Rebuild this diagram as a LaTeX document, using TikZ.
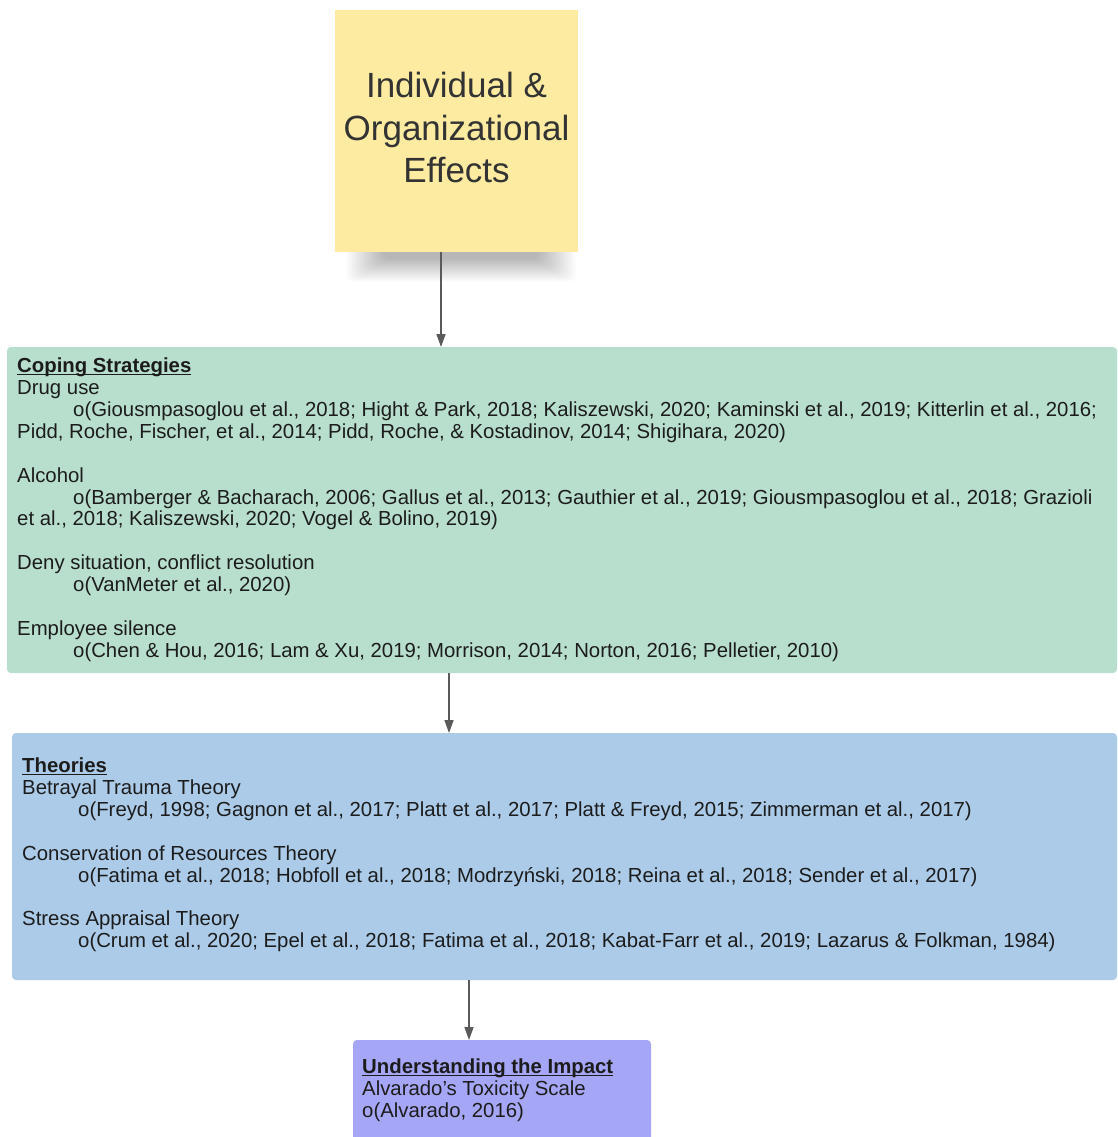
\documentclass[tikz,border=0pt]{standalone}
\usepackage{fontspec}
\setmainfont{Liberation Sans}
\usetikzlibrary{arrows.meta}

\definecolor{noteyellow}{HTML}{FDEBA2}
\definecolor{copegreen}{HTML}{B8DFCD}
\definecolor{theoryblue}{HTML}{ABCBE8}
\definecolor{impactviolet}{HTML}{A6A6F6}
\definecolor{arrowgray}{HTML}{5A5A5A}
\definecolor{titlegray}{HTML}{333333}
\definecolor{bodyink}{HTML}{1C1C1C}

% bold heading with an underline that sits just under the baseline
\newsavebox\hdrbox
\newcommand\hdr[1]{\sbox\hdrbox{\bfseries #1}\rlap{\rule[-2.2pt]{\wd\hdrbox}{1.3pt}}\usebox\hdrbox}
\newcommand\tabin{\hspace*{56pt}}
\newcommand\gap{\\[21.85pt]}

\begin{document}
\begin{tikzpicture}[x=1pt,y=-1pt,
  panel/.style={inner sep=0pt,outer sep=0pt,anchor=north west,rounded corners=4pt},
  arr/.style={draw=arrowgray,line width=1.4pt,-{Triangle[length=13pt,width=9pt]}},
  body/.style={inner sep=0pt,anchor=north west,align=left,text=bodyink,
               font=\fontsize{20.35}{21.85}\selectfont}]

\useasboundingbox (0,0) rectangle (1118,1137);
\fill[white] (0,0) rectangle (1118,1137);
\clip (0,0) rectangle (1118,1137);

% soft shadow under the sticky note, built from stacked translucent layers
\foreach \k in {0,...,23}
  \fill[black,opacity=0.0105,rounded corners=8pt]
    (346+1.6*\k,246) rectangle (576-1.6*\k,282-1.0*\k);

% panels
\node[panel,fill=noteyellow,minimum width=243pt,minimum height=242pt,rounded corners=0pt]
      (effects) at (335,10) {};
\node[panel,fill=copegreen,minimum width=1110pt,minimum height=326pt] (coping) at (7,347) {};
\node[panel,fill=theoryblue,minimum width=1105pt,minimum height=247pt] (theories) at (12,733) {};
\node[panel,fill=impactviolet,minimum width=298pt,minimum height=120pt] (impact) at (353,1040) {};

% title of the top note
\node[align=center,text=titlegray,font=\fontsize{35}{42.2}\selectfont,inner sep=0pt]
  (effectstxt) at ([yshift=3.5pt]effects.center) {Individual \&\\Organizational\\Effects};

% panel texts
\node[body] (copingtxt) at (17,358) {%
\hdr{Coping Strategies}\\
Drug use\\
\tabin o(Giousmpasoglou et al., 2018; Hight \& Park, 2018; Kaliszewski, 2020; Kaminski et al., 2019; Kitterlin et al., 2016;\\
Pidd, Roche, Fischer, et al., 2014; Pidd, Roche, \& Kostadinov, 2014; Shigihara, 2020)\gap
Alcohol\\
\tabin o(Bamberger \& Bacharach, 2006; Gallus et al., 2013; Gauthier et al., 2019; Giousmpasoglou et al., 2018; Grazioli\\
et al., 2018; Kaliszewski, 2020; Vogel \& Bolino, 2019)\gap
Deny situation, conflict resolution\\
\tabin o(VanMeter et al., 2020)\gap
Employee silence\\
\tabin o(Chen \& Hou, 2016; Lam \& Xu, 2019; Morrison, 2014; Norton, 2016; Pelletier, 2010)};

\node[body] (theoriestxt) at (22,758) {%
\hdr{Theories}\\
Betrayal Trauma Theory\\
\tabin o(Freyd, 1998; Gagnon et al., 2017; Platt et al., 2017; Platt \& Freyd, 2015; Zimmerman et al., 2017)\gap
Conservation of Resources Theory\\
\tabin o(Fatima et al., 2018; Hobfoll et al., 2018; Modrzyński, 2018; Reina et al., 2018; Sender et al., 2017)\gap
Stress Appraisal Theory\\
\tabin o(Crum et al., 2020; Epel et al., 2018; Fatima et al., 2018; Kabat-Farr et al., 2019; Lazarus \& Folkman, 1984)};

\node[body] (impacttxt) at (362,1059) {%
\hdr{Understanding the Impact}\\
Alvarado’s Toxicity Scale\\
o(Alvarado, 2016)};

% connectors
\coordinate (xa) at (441,0);
\coordinate (xb) at (449,0);
\coordinate (xc) at (469,0);
\draw[arr] (effects.south -| xa) -- (coping.north -| xa);
\draw[arr] (coping.south -| xb) -- (theories.north -| xb);
\draw[arr] (theories.south -| xc) -- (impact.north -| xc);
\end{tikzpicture}
\end{document}
